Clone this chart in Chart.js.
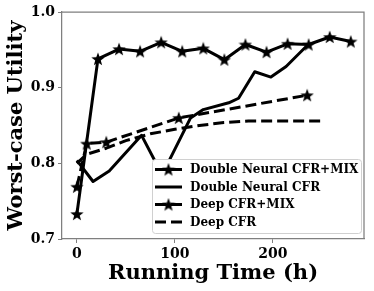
<!DOCTYPE html>
<html lang="en">
<head>
    <meta charset="UTF-8">
    <title>Worst-case Utility vs Running Time</title>
    <script src="https://cdn.jsdelivr.net/npm/chart.js"></script>
    <style>
        body {
            margin: 0;
            padding: 0;
            background-color: #fff;
        }

        .chart-box {
            width: 374px;
            height: 291px;
        }
    </style>
</head>
<body>
<div class="chart-box">
    <canvas id="utilityChart" width="374" height="291"></canvas>
</div>

<script>
    // Values
    const dnMixTime = [0, 21.5, 43, 64.5, 86, 107.5, 129, 150.5, 172, 193.5, 215, 236.5, 258, 279.5];
    const dnMixUtil = [0.733, 0.938, 0.951, 0.948, 0.960, 0.948, 0.952, 0.937, 0.957, 0.947, 0.958, 0.957, 0.967, 0.961];

    const dnTime = [0, 16.5, 33, 66, 87, 116, 129, 155, 165, 181.5, 198, 213.5, 236];
    const dnUtil = [0.804, 0.776, 0.790, 0.837, 0.785, 0.860, 0.871, 0.880, 0.886, 0.921, 0.914, 0.928, 0.957];

    const deepMixTime = [0, 10, 30, 104, 235];
    const deepMixUtil = [0.769, 0.826, 0.828, 0.860, 0.890];

    const deepTime = [0, 10, 30, 50, 75, 100, 125, 150, 175, 200, 250];
    const deepUtil = [0.800, 0.812, 0.820, 0.830, 0.839, 0.845, 0.850, 0.854, 0.856, 0.856, 0.856];

    const xTicks = [0, 100, 200];
    const yTicks = [0.7, 0.8, 0.9, 1.0];

    const seriesNames = ['Double Neural CFR+MIX', 'Double Neural CFR', 'Deep CFR+MIX', 'Deep CFR'];

    const FONT = "'DejaVu Serif', serif";
    const SPINE = '#7f7f7f';
    const DASH = [11, 5];

    function pairs(xs, ys) {
        return xs.map((x, i) => ({ x: x, y: ys[i] }));
    }

    // filled five-point star used as marker
    function makeStar(size) {
        const c = document.createElement('canvas');
        c.width = size;
        c.height = size;
        const g = c.getContext('2d');
        const r = size / 2, ri = r * 0.42;
        g.beginPath();
        for (let i = 0; i < 10; i++) {
            const rad = i % 2 === 0 ? r : ri;
            const a = -Math.PI / 2 + i * Math.PI / 5;
            const px = r + rad * Math.cos(a), py = r + 0.6 + rad * Math.sin(a);
            if (i === 0) g.moveTo(px, py); else g.lineTo(px, py);
        }
        g.closePath();
        g.fillStyle = '#000';
        g.fill();
        return c;
    }
    const star = makeStar(14);

    // legend box + top/right spines drawn by hand
    const framePlugin = {
        id: 'frame',
        afterDraw(chart) {
            const ctx = chart.ctx;
            const a = chart.chartArea;
            ctx.save();
            ctx.strokeStyle = SPINE;
            ctx.lineWidth = 1.25;
            ctx.beginPath();
            ctx.moveTo(a.left, a.top);
            ctx.lineTo(a.right, a.top);
            ctx.lineTo(a.right, a.bottom);
            ctx.stroke();

            // legend
            const bx = 152, by = 159, bw = 209, bh = 74;
            ctx.fillStyle = '#fff';
            ctx.strokeStyle = '#d0d0d0';
            ctx.lineWidth = 1;
            ctx.beginPath();
            ctx.roundRect(bx + 0.5, by + 0.5, bw, bh, 3);
            ctx.fill();
            ctx.stroke();

            ctx.font = 'bold 12px ' + FONT;
            ctx.textBaseline = 'middle';
            const rows = [169.5, 187, 204.5, 222];
            chart.data.datasets.forEach((ds, i) => {
                const y = rows[i];
                ctx.strokeStyle = '#000';
                ctx.lineWidth = 3;
                ctx.setLineDash(ds.borderDash || []);
                ctx.beginPath();
                ctx.moveTo(155, y);
                ctx.lineTo(182, y);
                ctx.stroke();
                ctx.setLineDash([]);
                if (ds.pointStyle === star) {
                    ctx.drawImage(star, 168.5 - 7, y - 7);
                }
                ctx.fillStyle = '#000';
                ctx.textAlign = 'left';
                ctx.fillText(ds.label, 190, y + 0.5);
            });
            ctx.restore();
        }
    };

    const ctx = document.getElementById('utilityChart').getContext('2d');
    const utilityChart = new Chart(ctx, {
        type: 'line',
        data: {
            datasets: [
                { label: seriesNames[0], data: pairs(dnMixTime, dnMixUtil), pointStyle: star, pointRadius: 7 },
                { label: seriesNames[1], data: pairs(dnTime, dnUtil), pointRadius: 0 },
                { label: seriesNames[2], data: pairs(deepMixTime, deepMixUtil), pointStyle: star, pointRadius: 7, borderDash: DASH },
                { label: seriesNames[3], data: pairs(deepTime, deepUtil), pointRadius: 0, borderDash: DASH }
            ].map(ds => Object.assign({
                borderColor: '#000',
                backgroundColor: '#000',
                borderWidth: 3,
                fill: false,
                tension: 0,
                borderJoinStyle: 'round'
            }, ds))
        },
        options: {
            responsive: false,
            animation: false,
            layout: { padding: { top: 12, right: 7, left: 0, bottom: 0 } },
            plugins: {
                legend: { display: false },
                tooltip: { enabled: false }
            },
            scales: {
                x: {
                    type: 'linear',
                    min: -15.2,
                    max: 293,
                    afterBuildTicks: s => { s.ticks = xTicks.map(v => ({ value: v })); },
                    afterFit: s => { s.height = 52; },
                    grid: { display: true, drawOnChartArea: false, drawTicks: true, tickLength: 4, color: SPINE },
                    border: { display: true, color: SPINE, width: 1.25 },
                    ticks: {
                        color: '#000',
                        padding: 3,
                        maxRotation: 0,
                        font: { family: FONT, size: 14, weight: 'bold' }
                    },
                    title: {
                        display: true,
                        text: 'Running Time (h)',
                        color: '#000',
                        padding: { top: 0, bottom: 5 },
                        font: { family: FONT, size: 21, weight: 'bold' }
                    }
                },
                y: {
                    min: 0.7,
                    max: 1.0,
                    afterBuildTicks: s => { s.ticks = yTicks.map(v => ({ value: v })); },
                    afterFit: s => { s.width = 62; },
                    grid: { display: true, drawOnChartArea: false, drawTicks: true, tickLength: 4, color: SPINE },
                    border: { display: true, color: SPINE, width: 1.25 },
                    ticks: {
                        color: '#000',
                        padding: 3,
                        callback: v => v.toFixed(1),
                        font: { family: FONT, size: 14, weight: 'bold' }
                    },
                    title: {
                        display: true,
                        text: 'Worst-case Utility',
                        color: '#000',
                        padding: { top: 4, bottom: 0 },
                        font: { family: FONT, size: 21, weight: 'bold' }
                    }
                }
            }
        },
        plugins: [framePlugin]
    });
</script>
</body>
</html>
